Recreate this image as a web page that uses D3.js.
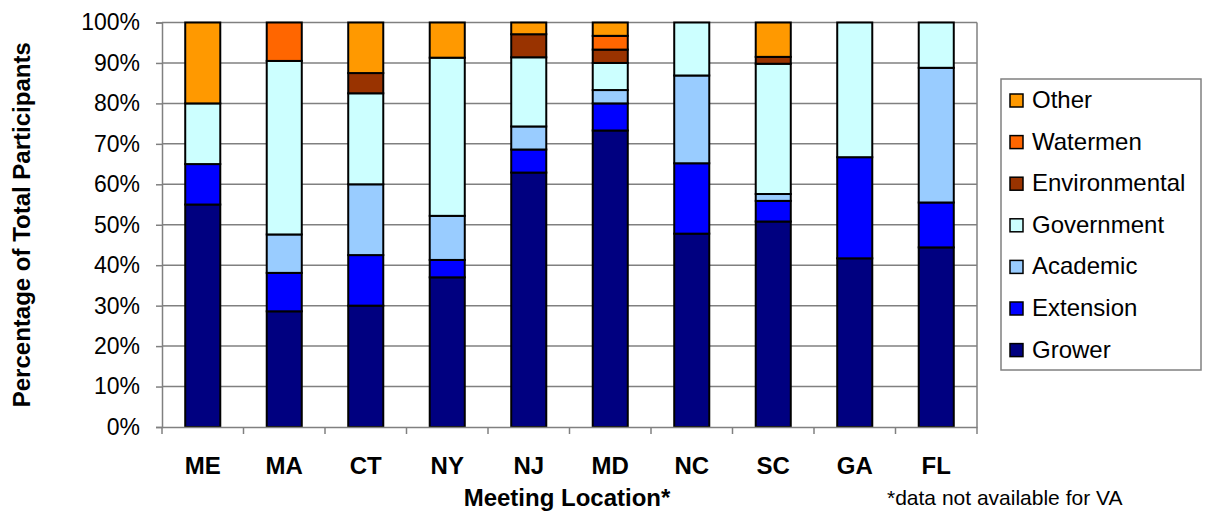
<!DOCTYPE html>
<html>
<head>
<meta charset="utf-8">
<script src="https://cdn.jsdelivr.net/npm/d3@7"></script>
<style>
  html, body { margin: 0; padding: 0; background: #fff; }
  svg text { font-family: "Liberation Sans", Arial, sans-serif; fill: #000; }
</style>
</head>
<body>
<svg id="chart" width="1208" height="529"></svg>
<script>
const locations = ["ME", "MA", "CT", "NY", "NJ", "MD", "NC", "SC", "GA", "FL"];
const seriesNames = ["Grower", "Extension", "Academic", "Government", "Environmental", "Watermen", "Other"];
const seriesColors = ["#000080", "#0000FF", "#99CCFF", "#CCFFFF", "#993300", "#FF6600", "#FF9900"];
// percentage of total participants per location
const grower        = [55.0, 28.6, 30.0, 37.0, 62.9, 73.3, 47.8, 50.8, 41.7, 44.4];
const extension     = [10.0,  9.5, 12.5,  4.3,  5.7,  6.7, 17.4,  5.1, 25.0, 11.1];
const academic      = [ 0.0,  9.5, 17.5, 10.9,  5.7,  3.3, 21.7,  1.7,  0.0, 33.3];
const government    = [15.0, 42.9, 22.5, 39.1, 17.1,  6.7, 13.1, 32.2, 33.3, 11.2];
const environmental = [ 0.0,  0.0,  5.0,  0.0,  5.7,  3.3,  0.0,  1.7,  0.0,  0.0];
const watermen      = [ 0.0,  9.5,  0.0,  0.0,  0.0,  3.4,  0.0,  0.0,  0.0,  0.0];
const other         = [20.0,  0.0, 12.5,  8.7,  2.9,  3.3,  0.0,  8.5,  0.0,  0.0];
const yTicks = [0, 10, 20, 30, 40, 50, 60, 70, 80, 90, 100];
const yTickLabels = ["0%", "10%", "20%", "30%", "40%", "50%", "60%", "70%", "80%", "90%", "100%"];
const xTitle = "Meeting Location*";
const yTitle = "Percentage of Total Participants";
const footnote = "*data not available for VA";

(function () {
const seriesValues = [grower, extension, academic, government, environmental, watermen, other];
const rows = locations.map((loc, i) => {
  const r = { loc };
  seriesNames.forEach((s, k) => r[s] = seriesValues[k][i]);
  return r;
});

const svg = d3.select("#chart");
const pL = 162, pR = 977, pT = 22.5, pB = 427;

const x = d3.scaleBand().domain(locations).range([pL, pR]).paddingInner(0.57).paddingOuter(0.285);
const y = d3.scaleLinear().domain([0, 100]).range([pB, pT]);

svg.append("g").selectAll("line").data(yTicks.filter(t => t > 0)).join("line")
  .attr("x1", pL).attr("x2", pR)
  .attr("y1", d => y(d)).attr("y2", d => y(d))
  .attr("stroke", "#808080").attr("stroke-width", 1.5);
svg.append("line").attr("x1", pR).attr("x2", pR).attr("y1", pT).attr("y2", pB)
  .attr("stroke", "#808080").attr("stroke-width", 1.5);

const stacked = d3.stack().keys(seriesNames)(rows);
svg.append("g").selectAll("g").data(stacked).join("g")
  .attr("fill", (d, i) => seriesColors[i])
  .selectAll("rect").data(d => d.filter(p => p[1] - p[0] > 0)).join("rect")
  .attr("x", d => x(d.data.loc))
  .attr("width", x.bandwidth())
  .attr("y", d => y(d[1]))
  .attr("height", d => y(d[0]) - y(d[1]))
  .attr("stroke", "#000").attr("stroke-width", 2);

const yAxis = d3.axisLeft(y).tickValues(yTicks).tickFormat((d, i) => yTickLabels[i]).tickSizeOuter(0).tickSize(6).tickPadding(16);
const gy = svg.append("g").attr("transform", `translate(${pL},0)`).call(yAxis);
gy.select(".domain").attr("stroke", "#808080").attr("stroke-width", 1.5);
gy.selectAll(".tick line").attr("stroke", "#808080").attr("stroke-width", 1.5);
gy.selectAll(".tick text").style("font-size", "23px").attr("fill", "#000");

const xAxis = d3.axisBottom(x).tickSize(0).tickSizeOuter(0).tickPadding(30);
const gx = svg.append("g").attr("transform", `translate(0,${pB})`).call(xAxis);
gx.select(".domain").attr("stroke", "#808080").attr("stroke-width", 1.5);
gx.selectAll(".tick text").style("font-size", "24px").style("font-weight", "bold").attr("fill", "#000");
const sepTicks = locations.map(l => x(l) - x.step() * x.paddingInner() / 2).concat([pR]);
svg.append("g").selectAll("line").data(sepTicks).join("line")
  .attr("x1", d => d).attr("x2", d => d).attr("y1", pB).attr("y2", pB + 7)
  .attr("stroke", "#808080").attr("stroke-width", 1.5);

svg.append("text").attr("x", 567).attr("y", 506).attr("text-anchor", "middle")
  .style("font-size", "24px").style("font-weight", "bold").text(xTitle);
svg.append("text").attr("transform", `translate(30,${(pT + pB) / 2}) rotate(-90)`)
  .attr("text-anchor", "middle").style("font-size", "24px").style("font-weight", "bold").text(yTitle);
svg.append("text").attr("x", 887).attr("y", 505).style("font-size", "21px").text(footnote);

const lg = svg.append("g");
lg.append("rect").attr("x", 1001).attr("y", 79).attr("width", 200).attr("height", 291)
  .attr("fill", "#fff").attr("stroke", "#808080").attr("stroke-width", 1.5);
const legendOrder = seriesNames.slice().reverse();
const item = lg.selectAll("g.item").data(legendOrder).join("g").attr("class", "item")
  .attr("transform", (d, i) => `translate(1010,${100 + i * 41.6})`);
item.append("rect").attr("x", 0).attr("y", -6).attr("width", 13).attr("height", 13)
  .attr("fill", d => seriesColors[seriesNames.indexOf(d)]).attr("stroke", "#000").attr("stroke-width", 1.5);
item.append("text").attr("x", 22).attr("y", 8).style("font-size", "24px").text(d => d);
})();
</script>
</body>
</html>
